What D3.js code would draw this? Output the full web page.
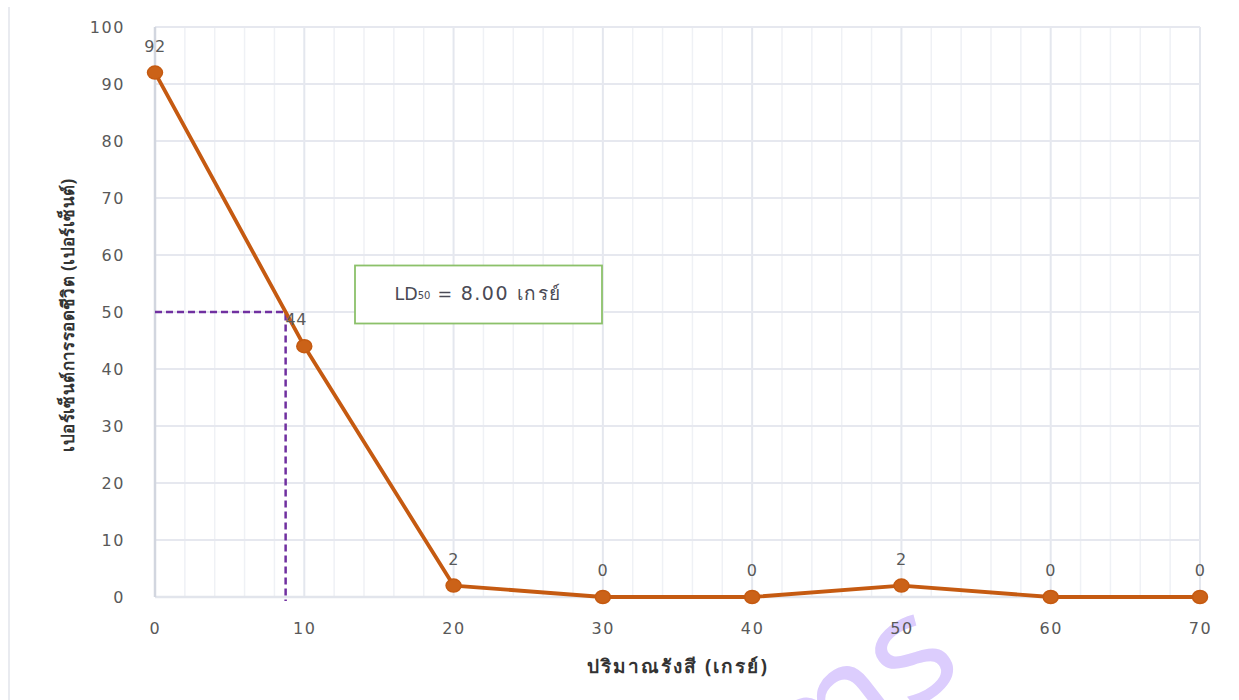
<!DOCTYPE html>
<html>
<head>
<meta charset="utf-8">
<script src="https://cdn.jsdelivr.net/npm/d3@7"></script>
<style>
  html, body { margin: 0; padding: 0; background: #fff; }
  svg { display: block; }
</style>
</head>
<body>
<svg id="chart" width="1239" height="700"></svg>
<script>
// Survival (%) against radiation dose (Gy)
const doses = [0, 10, 20, 30, 40, 50, 60, 70];
const survival = [92, 44, 2, 0, 0, 2, 0, 0];
const xTicks = [0, 10, 20, 30, 40, 50, 60, 70];
const yTicks = [0, 10, 20, 30, 40, 50, 60, 70, 80, 90, 100];
const ldLevel = 50;
const ldLabel = "8.00";
const xTitle = "ปริมาณรังสี (เกรย์)";
const yTitle = "เปอร์เซ็นต์การรอดชีวิต (เปอร์เซ็นต์)";

const svg = d3.select("#chart");
const x = d3.scaleLinear().domain([0, 70]).range([155, 1200]);
const y = d3.scaleLinear().domain([0, 100]).range([597, 27]);

const tickFont = "'DejaVu Sans', Verdana, sans-serif";
const lineColor = "#c55a11";

// outer frame edge on the left
svg.append("line")
  .attr("x1", 9).attr("x2", 9).attr("y1", 7).attr("y2", 700)
  .attr("stroke", "#e9ebf0").attr("stroke-width", 2);

// watermark
svg.append("text")
  .attr("transform", "translate(800,800) rotate(-38)")
  .attr("font-family", "'Noto Sans', sans-serif")
  .attr("font-size", 150)
  .attr("fill", "#dccdfd")
  .text("ms");

// minor vertical grid every 2 Gy
const minor = d3.range(0, 70.001, 2).filter(v => v % 10 !== 0);
svg.append("g").selectAll("line").data(minor).join("line")
  .attr("x1", d => x(d)).attr("x2", d => x(d))
  .attr("y1", y(100)).attr("y2", y(0))
  .attr("stroke", "#eff1f5").attr("stroke-width", 1.5);

// major vertical grid
svg.append("g").selectAll("line").data(xTicks.slice(1)).join("line")
  .attr("x1", d => x(d)).attr("x2", d => x(d))
  .attr("y1", y(100)).attr("y2", y(0))
  .attr("stroke", "#e4e7ee").attr("stroke-width", 2);

// horizontal grid
svg.append("g").selectAll("line").data(yTicks.slice(1)).join("line")
  .attr("x1", x(0)).attr("x2", x(70))
  .attr("y1", d => y(d)).attr("y2", d => y(d))
  .attr("stroke", "#e6e8ef").attr("stroke-width", 2);

// axis lines
svg.append("line")
  .attr("x1", x(0)).attr("x2", x(70)).attr("y1", y(0)).attr("y2", y(0))
  .attr("stroke", "#e2e5ec").attr("stroke-width", 2.5);
svg.append("line")
  .attr("x1", x(0)).attr("x2", x(0)).attr("y1", y(100)).attr("y2", y(0))
  .attr("stroke", "#d2d6df").attr("stroke-width", 2.5);

// y tick labels
const yAxis = d3.axisLeft(y).tickValues(yTicks).tickSize(0).tickPadding(30);
const gy = svg.append("g").attr("transform", `translate(${x(0)},0)`).call(yAxis);
gy.select(".domain").remove();
gy.selectAll("text")
  .attr("font-family", tickFont).attr("font-size", 16)
  .attr("letter-spacing", 1.6).attr("fill", "#595959");

// x tick labels
const xAxis = d3.axisBottom(x).tickValues(xTicks).tickSize(0).tickPadding(26);
const gx = svg.append("g").attr("transform", `translate(0,${y(0)})`).call(xAxis);
gx.select(".domain").remove();
gx.selectAll("text")
  .attr("font-family", tickFont).attr("font-size", 16)
  .attr("letter-spacing", 1.6).attr("fill", "#595959");

// LD50 guide: dose where the curve crosses 50 %
let ldDose = 0;
for (let i = 0; i < doses.length - 1; i++) {
  const a = survival[i], b = survival[i + 1];
  if ((a - ldLevel) * (b - ldLevel) <= 0 && a !== b) {
    ldDose = doses[i] + (a - ldLevel) / (a - b) * (doses[i + 1] - doses[i]);
    break;
  }
}
svg.append("path")
  .attr("d", `M${x(0)},${y(ldLevel)} H${x(ldDose)} V${y(0) + 4}`)
  .attr("fill", "none").attr("stroke", "#7030a0")
  .attr("stroke-width", 2.5).attr("stroke-dasharray", "7,4");

// survival curve
const line = d3.line().x((d, i) => x(doses[i])).y(d => y(d));
svg.append("path").datum(survival)
  .attr("d", line)
  .attr("fill", "none").attr("stroke", lineColor)
  .attr("stroke-width", 3.8).attr("stroke-linejoin", "round");

svg.append("g").selectAll("ellipse").data(survival).join("ellipse")
  .attr("cx", (d, i) => x(doses[i])).attr("cy", d => y(d))
  .attr("rx", 7.5).attr("ry", 6.5)
  .attr("fill", "#cb6218").attr("stroke", lineColor).attr("stroke-width", 1.5);

// data labels
svg.append("g").selectAll("text").data(survival).join("text")
  .attr("x", (d, i) => x(doses[i]) + (i === 1 ? -8 : 0))
  .attr("y", d => y(d) - 21)
  .attr("text-anchor", "middle")
  .attr("font-family", tickFont).attr("font-size", 16)
  .attr("letter-spacing", 0.5).attr("fill", "#595959")
  .text(d => d);

// LD50 box
const box = svg.append("g");
box.append("rect")
  .attr("x", 355).attr("y", 265.5).attr("width", 247).attr("height", 58)
  .attr("fill", "#fff").attr("stroke", "#8cc16a").attr("stroke-width", 1.8);
const bt = box.append("text")
  .attr("x", 478).attr("y", 300)
  .attr("text-anchor", "middle")
  .attr("font-family", tickFont).attr("font-size", 17.5).attr("fill", "#4a4a55");
bt.append("tspan").text("LD");
bt.append("tspan").attr("font-size", 10).attr("dy", -1).text("50");
bt.append("tspan").attr("dy", 1).attr("letter-spacing", 1.5).text(" = ");
bt.append("tspan").attr("font-size", 19).attr("letter-spacing", 1.5).text(ldLabel + " ");
bt.append("tspan").attr("font-family", "'Noto Sans', sans-serif").attr("font-size", 19)
  .attr("letter-spacing", 1.5).text("เกรย์");

// axis titles
svg.append("text")
  .attr("x", 678).attr("y", 673)
  .attr("text-anchor", "middle")
  .attr("font-family", "'Noto Sans', sans-serif").attr("font-weight", "bold")
  .attr("font-size", 19).attr("letter-spacing", 2).attr("fill", "#333")
  .text(xTitle);
svg.append("text")
  .attr("transform", "translate(74,315) rotate(-90)")
  .attr("text-anchor", "middle")
  .attr("font-family", "'Noto Sans', sans-serif").attr("font-weight", "bold")
  .attr("font-size", 17).attr("letter-spacing", 0.4).attr("fill", "#333")
  .text(yTitle);
</script>
</body>
</html>
